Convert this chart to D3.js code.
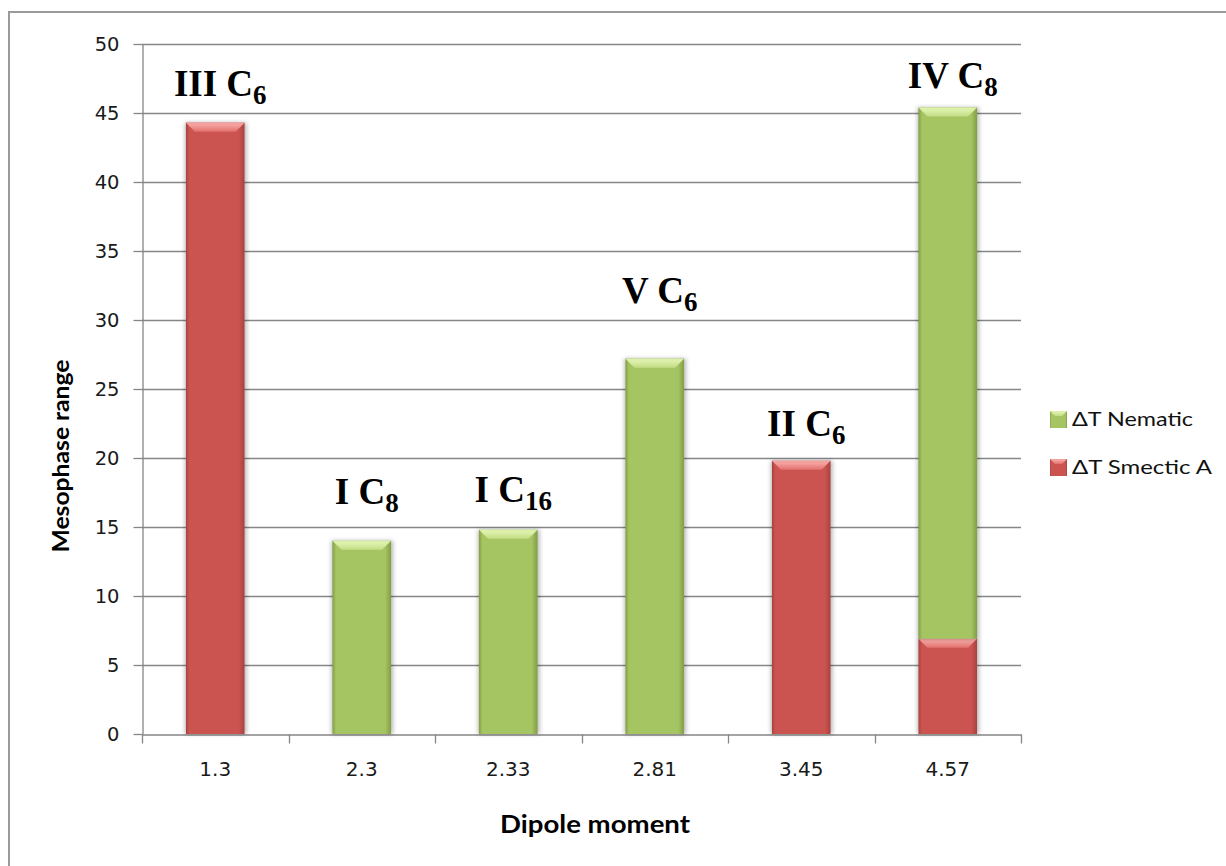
<!DOCTYPE html>
<html>
<head>
<meta charset="utf-8">
<script src="https://cdn.jsdelivr.net/npm/d3@7"></script>
<style>
  body { margin: 0; background: #fff; }
  svg { display: block; }
</style>
</head>
<body>
<svg id="chart" width="1226" height="866"></svg>
<script>
// Dipole moment categories and mesophase ranges (°C)
const categories = ["1.3", "2.3", "2.33", "2.81", "3.45", "4.57"];
const smecticA   = [44.3, 0, 0, 0, 19.8, 6.9];
const nematic    = [0, 14.0, 14.8, 27.2, 0, 38.5];
const yTicks     = [0, 5, 10, 15, 20, 25, 30, 35, 40, 45, 50];

// Compound annotations above each bar
const labelRoman = ["III", "I", "I", "V", "II", "IV"];
const labelSub   = ["6", "8", "16", "6", "6", "8"];
const labelLevel = [46.2, 16.7, 16.8, 31.2, 21.6, 46.8];

const seriesNames = ["ΔT Nematic", "ΔT Smectic A"];

const svg = d3.select("#chart");
const W = 1226, H = 866;
const plot = { left: 142, right: 1021, top: 44, bottom: 734 };

// outer frame
svg.append("rect")
  .attr("x", 9).attr("y", 12).attr("width", W + 20).attr("height", H + 20)
  .attr("fill", "#fff").attr("stroke", "#9a9a9a").attr("stroke-width", 2);

const x = d3.scaleBand().domain(categories)
  .range([plot.left, plot.right]).paddingInner(0.6).paddingOuter(0.3);
const y = d3.scaleLinear().domain([0, 50]).range([plot.bottom, plot.top]);

// ---------- defs: gradients and shadow ----------
const defs = svg.append("defs");
const palettes = {
  red:   { edge: "#a8423f", base: "#cb5451", cap: "#f4a09d", capLow: "#e2706d" },
  green: { edge: "#819e44", base: "#a5c462", cap: "#ddf0aa", capLow: "#c2dc84" }
};
Object.entries(palettes).forEach(([k, p]) => {
  const g = defs.append("linearGradient").attr("id", "body-" + k)
    .attr("x1", 0).attr("x2", 1).attr("y1", 0).attr("y2", 0);
  [[0, p.edge], [0.06, p.base], [0.9, p.base], [1, p.edge]].forEach(([o, c]) =>
    g.append("stop").attr("offset", o).attr("stop-color", c));
  const c = defs.append("linearGradient").attr("id", "cap-" + k)
    .attr("x1", 0).attr("x2", 0).attr("y1", 0).attr("y2", 1);
  [[0, p.cap], [0.3, p.cap], [1, p.capLow]].forEach(([o, col]) =>
    c.append("stop").attr("offset", o).attr("stop-color", col));
});
const sh = defs.append("filter").attr("id", "shadow")
  .attr("x", "-20%").attr("y", "-20%").attr("width", "140%").attr("height", "140%");
sh.append("feGaussianBlur").attr("stdDeviation", 2);

// ---------- gridlines ----------
svg.append("g").selectAll("line")
  .data(yTicks.filter(t => t > 0))
  .join("line")
  .attr("x1", plot.left).attr("x2", plot.right)
  .attr("y1", d => Math.round(y(d)) + 0.5).attr("y2", d => Math.round(y(d)) + 0.5)
  .attr("stroke", "#868686").attr("stroke-width", 1.3);

// ---------- y axis ----------
const yAxis = svg.append("g")
  .attr("transform", `translate(${plot.left + 0.5},0)`)
  .call(d3.axisLeft(y).tickValues(yTicks).tickSize(9).tickPadding(14).tickSizeOuter(0));
yAxis.select(".domain").attr("stroke", "#868686").attr("stroke-width", 1.3);
yAxis.selectAll(".tick line").attr("stroke", "#868686").attr("stroke-width", 1.3);
yAxis.selectAll(".tick text")
  .attr("font-family", "DejaVu Sans").attr("font-size", 19.5).attr("fill", "#1a1a1a");

// ---------- x axis ----------
const xAxis = svg.append("g")
  .attr("transform", `translate(0,${plot.bottom + 0.5})`)
  .call(d3.axisBottom(x).tickSize(0).tickPadding(27).tickSizeOuter(0));
xAxis.select(".domain").attr("stroke", "#868686").attr("stroke-width", 1.3);
xAxis.selectAll(".tick text")
  .attr("font-family", "DejaVu Sans").attr("font-size", 20).attr("fill", "#1a1a1a");
// tick marks on category boundaries
const boundaries = categories.map(c => x(c) - x.step() * x.paddingInner() / 2)
  .concat([plot.right]);
xAxis.selectAll(".bound").data(boundaries).join("line")
  .attr("class", "bound")
  .attr("x1", d => Math.round(d) + 0.5).attr("x2", d => Math.round(d) + 0.5)
  .attr("y1", 0).attr("y2", 9)
  .attr("stroke", "#868686").attr("stroke-width", 1.3);

// ---------- stacked bars ----------
const rows = categories.map((c, i) => ({ cat: c, smectic: smecticA[i], nematic: nematic[i] }));
const stack = d3.stack().keys(["smectic", "nematic"])(rows);
const colorOf = { smectic: "red", nematic: "green" };

const barsG = svg.append("g");
stack.forEach(layer => {
  layer.forEach(seg => {
    if (seg[1] - seg[0] <= 0) return;
    const k = colorOf[layer.key];
    const bx = x(seg.data.cat), bw = x.bandwidth();
    const yt = y(seg[1]), yb = y(seg[0]);
    const g = barsG.append("g");
    g.append("rect")
      .attr("x", bx - 1).attr("y", yt).attr("width", bw + 3).attr("height", yb - yt)
      .attr("fill", "rgba(0,0,0,0.28)").attr("filter", "url(#shadow)");
    g.append("rect")
      .attr("x", bx).attr("y", yt).attr("width", bw).attr("height", yb - yt)
      .attr("fill", `url(#body-${k})`);
    const bev = Math.min(9, (yb - yt) / 2);
    g.append("polygon")
      .attr("points", [[bx, yt], [bx + bw, yt], [bx + bw - bev, yt + bev], [bx + bev, yt + bev]]
        .map(p => p.join(",")).join(" "))
      .attr("fill", `url(#cap-${k})`);
  });
});

// ---------- compound annotations ----------
const ann = svg.append("g")
  .attr("font-family", "Liberation Serif").attr("font-weight", "bold").attr("fill", "#000");
categories.forEach((c, i) => {
  const t = ann.append("text")
    .attr("x", x(c) + x.bandwidth() / 2 + 5)
    .attr("y", y(labelLevel[i]))
    .attr("text-anchor", "middle")
    .attr("font-size", 37);
  t.append("tspan").text(labelRoman[i] + " C");
  t.append("tspan").attr("font-size", 27).attr("dy", 8).text(labelSub[i]);
});

// ---------- axis titles ----------
svg.append("text")
  .attr("transform", "translate(69,456) rotate(-90)")
  .attr("text-anchor", "middle")
  .attr("font-family", "Lato").attr("font-weight", "bold").attr("font-size", 23)
  .attr("textLength", 193).attr("lengthAdjust", "spacingAndGlyphs")
  .text("Mesophase range");
svg.append("text")
  .attr("x", 595).attr("y", 833)
  .attr("text-anchor", "middle")
  .attr("font-family", "Lato").attr("font-weight", "bold").attr("font-size", 24)
  .attr("textLength", 190).attr("lengthAdjust", "spacingAndGlyphs")
  .text("Dipole moment");

// ---------- legend ----------
const legend = svg.append("g").attr("transform", "translate(1050,411)");
seriesNames.forEach((name, i) => {
  const k = i === 0 ? "green" : "red";
  const g = legend.append("g").attr("transform", `translate(0,${i * 48})`);
  g.append("rect").attr("width", 17).attr("height", 17).attr("fill", `url(#body-${k})`);
  g.append("polygon").attr("points", "0,0 17,0 12,5 5,5").attr("fill", `url(#cap-${k})`);
  g.append("text")
    .attr("x", 22).attr("y", 15)
    .attr("font-family", "Lato").attr("font-size", 19).attr("fill", "#111")
    .attr("textLength", name.length > 11 ? 140 : 121).attr("lengthAdjust", "spacingAndGlyphs")
    .text(name);
});
</script>
</body>
</html>
